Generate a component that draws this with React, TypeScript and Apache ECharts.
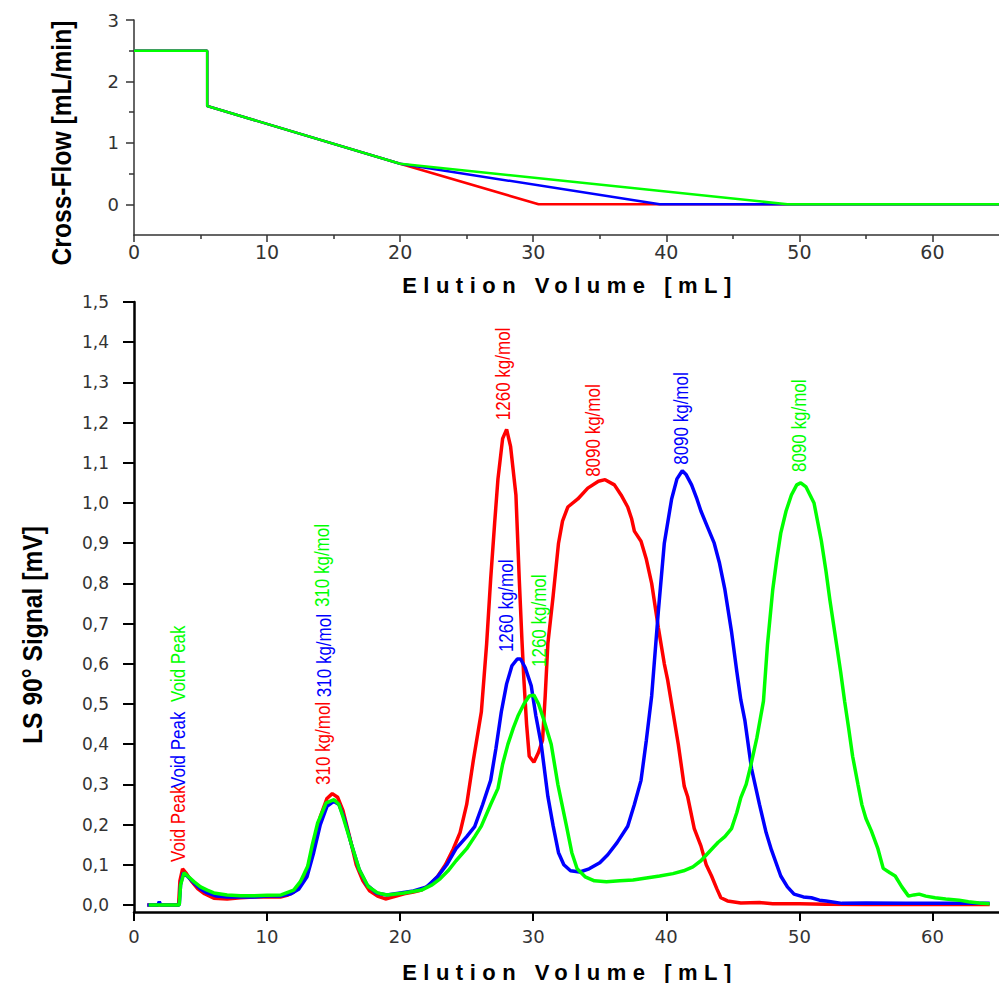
import React, { useEffect, useRef } from 'react';
import * as echarts from 'echarts';

const RED = '#ff0000';
const BLUE = '#0000ff';
const GREEN = '#00ff00';

// ---- Top panel: Cross-Flow [mL/min] vs Elution Volume [mL]
const crossFlowRed = [[0, 2.5], [5.5, 2.5], [5.5, 1.6], [20, 0.66], [30.4, 0], [65, 0]];
const crossFlowBlue = [[0, 2.5], [5.5, 2.5], [5.5, 1.6], [20, 0.66], [39.5, 0], [65, 0]];
const crossFlowGreen = [[0, 2.5], [5.5, 2.5], [5.5, 1.6], [20, 0.66], [49.1, 0], [65, 0]];

const topXTicks = [0, 10, 20, 30, 40, 50, 60];
const topXMinorTicks = [5, 15, 25, 35, 45, 55];
const topYTicks = [0, 1, 2, 3];
const topYMinorTicks = [0.5, 1.5, 2.5];

// ---- Bottom panel: LS 90° Signal [mV] vs Elution Volume [mL]
const lsRed = [
  [1.0, 0], [3.35, 0], [3.45, 0.06], [3.65, 0.09], [3.9, 0.08], [4.3, 0.06], [4.8, 0.04], [5.3, 0.028],
  [6.0, 0.017], [7, 0.015], [8, 0.018], [9, 0.02], [10, 0.02], [11, 0.02], [11.5, 0.024], [12, 0.032],
  [12.5, 0.05], [13, 0.085], [13.5, 0.15], [14, 0.22], [14.5, 0.265], [14.9, 0.277], [15.3, 0.268],
  [15.7, 0.235], [16.2, 0.17], [16.7, 0.1], [17.2, 0.06], [17.7, 0.035], [18.3, 0.022], [18.9, 0.015],
  [19.5, 0.02], [20.3, 0.028], [21, 0.032], [21.6, 0.037], [22.2, 0.05], [22.8, 0.07], [23.4, 0.1],
  [24, 0.14], [24.5, 0.18], [25, 0.25], [25.5, 0.36], [26.1, 0.48], [26.5, 0.65], [26.8, 0.81],
  [27.1, 0.95], [27.35, 1.06], [27.7, 1.16], [28.0, 1.183], [28.3, 1.14], [28.7, 1.02], [28.95, 0.81],
  [29.15, 0.66], [29.3, 0.56], [29.5, 0.45], [29.7, 0.37], [30.05, 0.355], [30.4, 0.38], [30.7, 0.41],
  [30.9, 0.52], [31.1, 0.65], [31.5, 0.77], [31.9, 0.9], [32.2, 0.955], [32.6, 0.99], [33.35, 1.01],
  [34.1, 1.037], [34.9, 1.054], [35.4, 1.058], [36.1, 1.045], [36.6, 1.02], [37.1, 0.99], [37.4, 0.96],
  [37.6, 0.93], [38.1, 0.905], [38.5, 0.86], [38.9, 0.8], [39.4, 0.69], [39.85, 0.6], [40.1, 0.56],
  [40.5, 0.48], [40.9, 0.4], [41.35, 0.295], [41.6, 0.27], [42.1, 0.19], [42.6, 0.147], [43.0, 0.1],
  [43.4, 0.072], [43.8, 0.04], [44.1, 0.018], [44.6, 0.01], [45.6, 0.005], [47, 0.006], [48, 0.003],
  [50, 0.003], [52, 0.002], [55, 0.001], [60, 0.001], [64.3, 0.001],
];

const lsBlue = [
  [1.0, 0], [1.8, 0], [1.9, 0.008], [2.0, 0], [3.4, 0], [3.5, 0.05], [3.7, 0.08], [4.0, 0.072],
  [4.5, 0.055], [5.0, 0.04], [5.5, 0.03], [6.2, 0.022], [7, 0.02], [8, 0.02], [9, 0.02], [10, 0.022],
  [11, 0.022], [11.8, 0.028], [12.4, 0.04], [13, 0.07], [13.5, 0.13], [14, 0.2], [14.5, 0.245],
  [15.0, 0.258], [15.4, 0.25], [15.8, 0.215], [16.3, 0.155], [16.9, 0.09], [17.5, 0.05], [18.2, 0.03],
  [19, 0.025], [20, 0.03], [21, 0.035], [22, 0.045], [22.8, 0.07], [23.5, 0.1], [24.2, 0.14], [25, 0.17],
  [25.6, 0.195], [26.2, 0.25], [26.8, 0.31], [27.2, 0.39], [27.6, 0.48], [28.0, 0.55], [28.4, 0.595],
  [28.8, 0.612], [29.05, 0.612], [29.4, 0.59], [29.85, 0.545], [30.2, 0.47], [30.6, 0.4], [31.1, 0.27],
  [31.5, 0.196], [31.9, 0.13], [32.3, 0.1], [32.8, 0.085], [33.5, 0.082], [34.2, 0.09], [35, 0.105],
  [35.6, 0.125], [36.3, 0.155], [37.1, 0.196], [37.6, 0.25], [38.1, 0.31], [38.5, 0.41], [38.9, 0.52],
  [39.4, 0.73], [39.85, 0.9], [40.4, 1.01], [40.8, 1.06], [41.2, 1.08], [41.5, 1.07], [41.9, 1.045],
  [42.3, 1.01], [42.6, 0.98], [43.1, 0.94], [43.6, 0.9], [44.0, 0.85], [44.4, 0.785], [44.9, 0.68],
  [45.3, 0.58], [45.6, 0.51], [45.9, 0.46], [46.4, 0.34], [47.0, 0.25], [47.5, 0.18], [47.9, 0.137],
  [48.6, 0.072], [49.1, 0.045], [49.6, 0.027], [50.3, 0.02], [50.9, 0.018], [51.5, 0.012], [52, 0.01],
  [53.2, 0.004], [55, 0.005], [58, 0.004], [61, 0.004], [64.3, 0.004],
];

const lsGreen = [
  [1.1, 0], [3.4, 0], [3.5, 0.05], [3.76, 0.08], [4.1, 0.07], [4.5, 0.058], [5.0, 0.045], [5.5, 0.037],
  [6.0, 0.03], [7, 0.025], [8, 0.023], [9, 0.023], [10, 0.024], [11.05, 0.025], [12.0, 0.037],
  [12.5, 0.058], [13.05, 0.096], [13.4, 0.15], [13.8, 0.204], [14.44, 0.254], [15.04, 0.262],
  [15.4, 0.25], [15.7, 0.22], [16.3, 0.155], [16.94, 0.087], [17.6, 0.046], [18.3, 0.03], [19, 0.025],
  [20.3, 0.03], [21.6, 0.037], [22.4, 0.05], [23, 0.065], [23.6, 0.085], [24.2, 0.11], [25, 0.14],
  [25.6, 0.17], [26.1, 0.196], [26.8, 0.25], [27.35, 0.29], [27.7, 0.35], [28.1, 0.4], [28.5, 0.44],
  [28.85, 0.47], [29.3, 0.5], [29.7, 0.52], [30.05, 0.522], [30.4, 0.5], [30.8, 0.46], [31.35, 0.4],
  [31.85, 0.3], [32.5, 0.196], [32.9, 0.13], [33.3, 0.09], [33.9, 0.07], [34.6, 0.06], [35.5, 0.058],
  [36.5, 0.06], [37.5, 0.062], [38.5, 0.067], [39.5, 0.072], [40.5, 0.078], [41.3, 0.085], [42, 0.095],
  [42.6, 0.11], [43.3, 0.135], [43.9, 0.156], [44.4, 0.17], [44.9, 0.19], [45.3, 0.23], [45.6, 0.267],
  [46.0, 0.3], [46.3, 0.34], [46.8, 0.415], [47.3, 0.507], [47.6, 0.647], [48.0, 0.785], [48.3, 0.86],
  [48.6, 0.925], [49.0, 0.98], [49.4, 1.02], [49.8, 1.045], [50.1, 1.05], [50.5, 1.04], [50.8, 1.02],
  [51.1, 1.0], [51.65, 0.906], [52.0, 0.83], [52.3, 0.757], [52.8, 0.647], [53.1, 0.58], [53.4, 0.507],
  [53.7, 0.44], [54.0, 0.37], [54.4, 0.3], [54.7, 0.249], [55.0, 0.215], [55.4, 0.185], [55.9, 0.14],
  [56.3, 0.091], [56.8, 0.08], [57.2, 0.072], [57.7, 0.045], [58.2, 0.022], [58.6, 0.025], [59.0, 0.027],
  [59.5, 0.022], [60.2, 0.018], [61, 0.015], [62, 0.012], [62.7, 0.008], [63.5, 0.005], [64.3, 0.003],
];

const bottomXTicks = [0, 10, 20, 30, 40, 50, 60];
const bottomYTicks = [0, 0.1, 0.2, 0.3, 0.4, 0.5, 0.6, 0.7, 0.8, 0.9, 1.0, 1.1, 1.2, 1.3, 1.4, 1.5];

// Peak annotations (anchor = bottom of the rotated text, in data units of the lower panel)
const annotationTexts = ['Void Peak', 'Void Peak', 'Void Peak', '310 kg/mol', '310 kg/mol', '310 kg/mol',
  '1260 kg/mol', '1260 kg/mol', '1260 kg/mol', '8090 kg/mol', '8090 kg/mol', '8090 kg/mol'];
const annotationColors = [RED, BLUE, GREEN, RED, BLUE, GREEN, RED, BLUE, GREEN, RED, BLUE, GREEN];
const annotationX = [3.27, 3.3, 3.3, 14.19, 14.3, 14.1, 27.7, 27.93, 30.4, 34.46, 41.14, 50.0];
const annotationY = [0.107, 0.291, 0.505, 0.2985, 0.517, 0.741, 1.206, 0.629, 0.592, 1.065, 1.095, 1.077];

const TICK_COLOR = '#333';
const LABEL_FONT = 'DejaVu Sans';
const X_TITLE = 'Elution Volume [mL]';

export default function App() {
  const ref = useRef<HTMLDivElement>(null);

  useEffect(() => {
    if (!ref.current) return;
    const chart = echarts.init(ref.current, null, { renderer: 'svg' });

    const thinLine = { color: TICK_COLOR, width: 1.5 };
    const thickLine = { color: '#000', width: 2.5 };

    const option: any = {
      animation: false,
      grid: [
        { left: 134, top: 20, width: 865, height: 215 },
        { left: 134, top: 302, width: 865, height: 610 },
      ],
      xAxis: [
        {
          gridIndex: 0, type: 'value', min: 0, max: 65, position: 'bottom',
          axisLine: { onZero: false, lineStyle: thinLine },
          axisTick: { customValues: topXTicks, length: 7, lineStyle: thinLine },
          axisLabel: { customValues: topXTicks, fontSize: 19, fontFamily: LABEL_FONT, color: TICK_COLOR, margin: 7 },
          splitLine: { show: false },
        },
        {
          gridIndex: 0, type: 'value', min: 0, max: 65, position: 'bottom',
          axisLine: { show: false, onZero: false },
          axisTick: { customValues: topXMinorTicks, length: 4, lineStyle: thinLine },
          axisLabel: { show: false },
          splitLine: { show: false },
        },
        {
          gridIndex: 1, type: 'value', min: 0, max: 65, position: 'bottom',
          axisLine: { onZero: false, lineStyle: thickLine },
          axisTick: { customValues: bottomXTicks, length: 9, lineStyle: { color: '#000', width: 2 } },
          axisLabel: { customValues: bottomXTicks, fontSize: 18, fontFamily: LABEL_FONT, color: TICK_COLOR, margin: 15 },
          splitLine: { show: false },
        },
      ],
      yAxis: [
        {
          gridIndex: 0, type: 'value', min: -0.5, max: 3, position: 'left',
          axisLine: { show: true, onZero: false, lineStyle: thinLine },
          axisTick: { show: true, customValues: topYTicks, length: 8, lineStyle: thinLine },
          axisLabel: { customValues: topYTicks, fontSize: 18, fontFamily: LABEL_FONT, color: TICK_COLOR, margin: 15 },
          splitLine: { show: false },
        },
        {
          gridIndex: 0, type: 'value', min: -0.5, max: 3, position: 'left',
          axisLine: { show: false, onZero: false },
          axisTick: { show: true, customValues: topYMinorTicks, length: 5, lineStyle: thinLine },
          axisLabel: { show: false },
          splitLine: { show: false },
        },
        {
          gridIndex: 1, type: 'value', min: -0.0175, max: 1.5, position: 'left',
          axisLine: { show: true, onZero: false, lineStyle: thickLine },
          axisTick: { show: true, customValues: bottomYTicks, length: 11, lineStyle: { color: '#000', width: 2 } },
          axisLabel: {
            customValues: bottomYTicks, fontSize: 17, fontFamily: LABEL_FONT, color: TICK_COLOR, margin: 25,
            formatter: (v: number) => v.toFixed(1).replace('.', ','),
          },
          splitLine: { show: false },
        },
      ],
      series: [
        { name: 'CF red', type: 'line', xAxisIndex: 0, yAxisIndex: 0, data: crossFlowRed, showSymbol: false, symbol: 'none', lineStyle: { color: RED, width: 2.5 }, itemStyle: { color: RED } },
        { name: 'CF blue', type: 'line', xAxisIndex: 0, yAxisIndex: 0, data: crossFlowBlue, showSymbol: false, symbol: 'none', lineStyle: { color: BLUE, width: 2.5 }, itemStyle: { color: BLUE } },
        { name: 'CF green', type: 'line', xAxisIndex: 0, yAxisIndex: 0, data: crossFlowGreen, showSymbol: false, symbol: 'none', lineStyle: { color: GREEN, width: 2.5 }, itemStyle: { color: GREEN } },
        { name: 'LS red', type: 'line', xAxisIndex: 2, yAxisIndex: 2, data: lsRed, showSymbol: false, symbol: 'none', lineStyle: { color: RED, width: 3.5 }, itemStyle: { color: RED } },
        { name: 'LS blue', type: 'line', xAxisIndex: 2, yAxisIndex: 2, data: lsBlue, showSymbol: false, symbol: 'none', lineStyle: { color: BLUE, width: 3.5 }, itemStyle: { color: BLUE } },
        { name: 'LS green', type: 'line', xAxisIndex: 2, yAxisIndex: 2, data: lsGreen, showSymbol: false, symbol: 'none', lineStyle: { color: GREEN, width: 3.5 }, itemStyle: { color: GREEN } },
      ],
    };

    chart.setOption(option);

    const titleStyle = { fontSize: 22, fontWeight: 'bold', fontFamily: 'Liberation Sans', fill: '#000', align: 'center', verticalAlign: 'middle' };
    const titles: any[] = [
      { type: 'text', x: 570, y: 285, style: { ...titleStyle, text: X_TITLE } },
      { type: 'text', x: 570, y: 972, style: { ...titleStyle, text: X_TITLE } },
      { type: 'text', x: 61, y: 143, rotation: Math.PI / 2, scaleX: 0.88, style: { ...titleStyle, fontSize: 28, text: 'Cross-Flow [mL/min]' } },
      { type: 'text', x: 32, y: 635, rotation: Math.PI / 2, scaleX: 0.88, style: { ...titleStyle, fontSize: 28, text: 'LS 90° Signal [mV]' } },
    ];

    const notes = annotationTexts.map((t, i) => {
      const p = chart.convertToPixel({ gridIndex: 1 } as any, [annotationX[i], annotationY[i]]) as number[];
      return {
        type: 'text', x: p[0], y: p[1], rotation: Math.PI / 2, scaleX: 0.85, z: 100,
        style: { text: t, fill: annotationColors[i], fontSize: 20, fontFamily: 'Liberation Sans', align: 'left', verticalAlign: 'middle' },
      };
    });

    chart.setOption({ graphic: [...titles, ...notes] });

    const applySpacing = () => {
      if (!ref.current) return;
      ref.current.querySelectorAll('text').forEach((el) => {
        if (el.textContent === X_TITLE) {
          el.setAttribute('letter-spacing', '6.5');
          (el as any).style.letterSpacing = '6.5px';
        }
      });
    };
    applySpacing();
    chart.on('finished', applySpacing);
    const timer = setTimeout(applySpacing, 30);

    return () => {
      clearTimeout(timer);
      chart.dispose();
    };
  }, []);

  return <div ref={ref} style={{ position: 'fixed', left: 0, top: 0, width: 999, height: 983, background: '#fff' }} />;
}
